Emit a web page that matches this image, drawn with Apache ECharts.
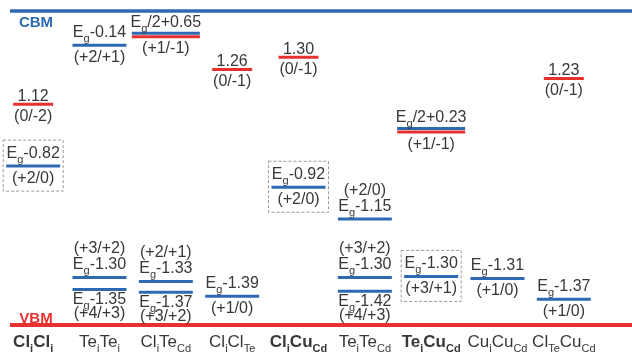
<!DOCTYPE html>
<html><head><meta charset="utf-8">
<script src="https://cdn.jsdelivr.net/npm/echarts@6/dist/echarts.min.js"></script>
<style>html,body{margin:0;padding:0;background:#fff}#c{width:632px;height:354px}</style>
</head><body><div id="c"></div>
<script>
// ---- data ----
const categories = ['Cl[i]Cl[i]','Te[i]Te[i]','Cl[i]Te[Cd]','Cl[i]Cl[Te]','Cl[i]Cu[Cd]','Te[i]Te[Cd]','Te[i]Cu[Cd]','Cu[i]Cu[Cd]','Cl[Te]Cu[Cd]'];
const boldCategories = [0, 4, 6];
const bandGap = 1.5;              // CBM position (eV above VBM)
const edgeNames = ['CBM', 'VBM'];
const edgeValues = [1.5, 0];
const levelCategory = [0,0, 1,1,1, 2,2,2, 3,3, 4,4, 5,5,5, 6,6, 7, 8,8];
const levelPosition = [1.055,0.759, 1.336,0.227,0.170, 1.385,0.208,0.156, 1.221,0.137, 1.279,0.658, 0.506,0.227,0.161, 0.930,0.232, 0.222, 1.178,0.123];
const levelKind = ['acceptor','donor', 'donor','donor','donor', 'both','donor','donor', 'acceptor','donor', 'acceptor','donor', 'donor','donor','donor', 'both','donor', 'donor', 'acceptor','donor'];
const levelTextAbove = [['1.12'],['E[g]-0.82'], ['E[g]-0.14'],['(+3/+2)','E[g]-1.30'],[], ['E[g]/2+0.65'],['(+2/+1)','E[g]-1.33'],[], ['1.26'],['E[g]-1.39'], ['1.30'],['E[g]-0.92'], ['(+2/0)','E[g]-1.15'],['(+3/+2)','E[g]-1.30'],[], ['E[g]/2+0.23'],['E[g]-1.30'], ['E[g]-1.31'], ['1.23'],['E[g]-1.37']];
const levelTextBelow = [['(0/-2)'],['(+2/0)'], ['(+2/+1)'],[],['E[g]-1.35','(+4/+3)'], ['(+1/-1)'],[],['E[g]-1.37','(+3/+2)'], ['(0/-1)'],['(+1/0)'], ['(0/-1)'],['(+2/0)'], [],[],['E[g]-1.42','(+4/+3)'], ['(+1/-1)'],['(+3/+1)'], ['(+1/0)'], ['(0/-1)'],['(+1/0)']];
const levelBoxed = [1, 11, 16];

// ---- styles ----
const BLUE = '#2d6ab2', RED = '#e8312f', TXT = '#383838';
const FONT = '"Liberation Sans", Arial, Helvetica, sans-serif';

function toRich(str, base, sub) {
  const parts = str.split(/\[([^\]]*)\]/);
  let out = '';
  parts.forEach((p, k) => { if (p !== '') out += '{' + (k % 2 ? sub : base) + '|' + p + '}'; });
  return out;
}
const levelRich = {
  n: {fontSize: 16, lineHeight: 23, fontFamily: FONT, color: TXT},
  g: {fontSize: 11, lineHeight: 11, verticalAlign: 'bottom', fontFamily: FONT, color: TXT}
};
function textEl(x, y, s) {
  return {type: 'text', x: x, y: y, silent: true,
    style: {text: toRich(s, 'n', 'g'), rich: levelRich, align: 'center', verticalAlign: 'middle',
      fontSize: 16, fontFamily: FONT, fill: TXT}};
}
function lineEl(x, w, y, color) {
  return {type: 'line', shape: {x1: x - w / 2, y1: y, x2: x + w / 2, y2: y}, style: {stroke: color, lineWidth: 3}};
}

function renderLevel(params, api) {
  const i = params.dataIndex;
  const c = api.coord([api.value(0), api.value(1)]);
  const x = c[0], y = c[1];
  const kind = levelKind[i];
  const w = kind === 'both' ? 68 : (kind === 'acceptor' ? 40 : 54);
  const ch = [];
  if (kind === 'both') { ch.push(lineEl(x, w, y - 1.7, BLUE)); ch.push(lineEl(x, w, y + 1.7, RED)); }
  else ch.push(lineEl(x, w, y, kind === 'donor' ? BLUE : RED));
  const up = levelTextAbove[i];
  let off;
  for (let k = up.length - 1; k >= 0; k--) {
    if (k === up.length - 1) off = up[k].indexOf('[g]') >= 0 ? -12.5 : -8;
    else off -= 16;
    ch.push(textEl(x, y + off, up[k]));
  }
  const dn = levelTextBelow[i];
  for (let k = 0; k < dn.length; k++) {
    if (k === 0) off = dn[k].indexOf('[g]') >= 0 ? 10.5 : (kind === 'both' ? 14 : 12);
    else off += 13.5;
    ch.push(textEl(x, y + off, dn[k]));
  }
  if (levelBoxed.indexOf(i) >= 0) {
    ch.push({type: 'rect', shape: {x: x - 30, y: y - 26, width: 60, height: 51},
      style: {fill: 'none', stroke: '#9a9a9a', lineWidth: 1, lineDash: [3, 2]}});
  }
  return {type: 'group', children: ch};
}

function renderEdge(params, api) {
  const i = params.dataIndex;
  const y = api.coord([0, api.value(1)])[1];
  const isC = edgeNames[i] === 'CBM';
  const col = isC ? BLUE : RED;
  return {type: 'group', children: [
    {type: 'line', shape: {x1: 10, y1: y, x2: api.getWidth(), y2: y}, style: {stroke: col, lineWidth: isC ? 3.5 : 4}},
    {type: 'text', x: 36, y: y + (isC ? 11.5 : -6), style: {text: edgeNames[i], fill: col, fontSize: 15,
      fontWeight: 'bold', fontFamily: FONT, align: 'center', verticalAlign: 'middle'}}
  ]};
}

const chart = echarts.init(document.getElementById('c'));
chart.setOption({
  animation: false,
  backgroundColor: '#fff',
  grid: {left: 0, right: 35, top: 11, bottom: 26},
  xAxis: {
    type: 'category', data: categories, boundaryGap: true,
    axisLine: {show: false}, axisTick: {show: false}, splitLine: {show: false},
    axisLabel: {
      interval: 0, hideOverlap: false, margin: 5,
      formatter: (v, idx) => {
        const b = boldCategories.indexOf(idx) >= 0;
        return toRich(v, b ? 'nb' : 'n', b ? 'sb' : 's');
      },
      rich: {
        n: {fontSize: 17, lineHeight: 24, fontFamily: FONT, color: TXT},
        s: {fontSize: 11, lineHeight: 11, verticalAlign: 'bottom', fontFamily: FONT, color: TXT},
        nb: {fontSize: 17, lineHeight: 24, fontWeight: 'bold', fontFamily: FONT, color: TXT},
        sb: {fontSize: 11, lineHeight: 11, verticalAlign: 'bottom', fontWeight: 'bold', fontFamily: FONT, color: TXT}
      }
    }
  },
  yAxis: {type: 'value', min: 0, max: bandGap, show: false},
  series: [
    {type: 'custom', renderItem: renderEdge, data: edgeValues.map(v => [0, v]), silent: true, z: 1},
    {type: 'custom', renderItem: renderLevel, data: levelPosition.map((v, i) => [levelCategory[i], v]), silent: true, z: 2}
  ]
});
</script>
</body></html>
